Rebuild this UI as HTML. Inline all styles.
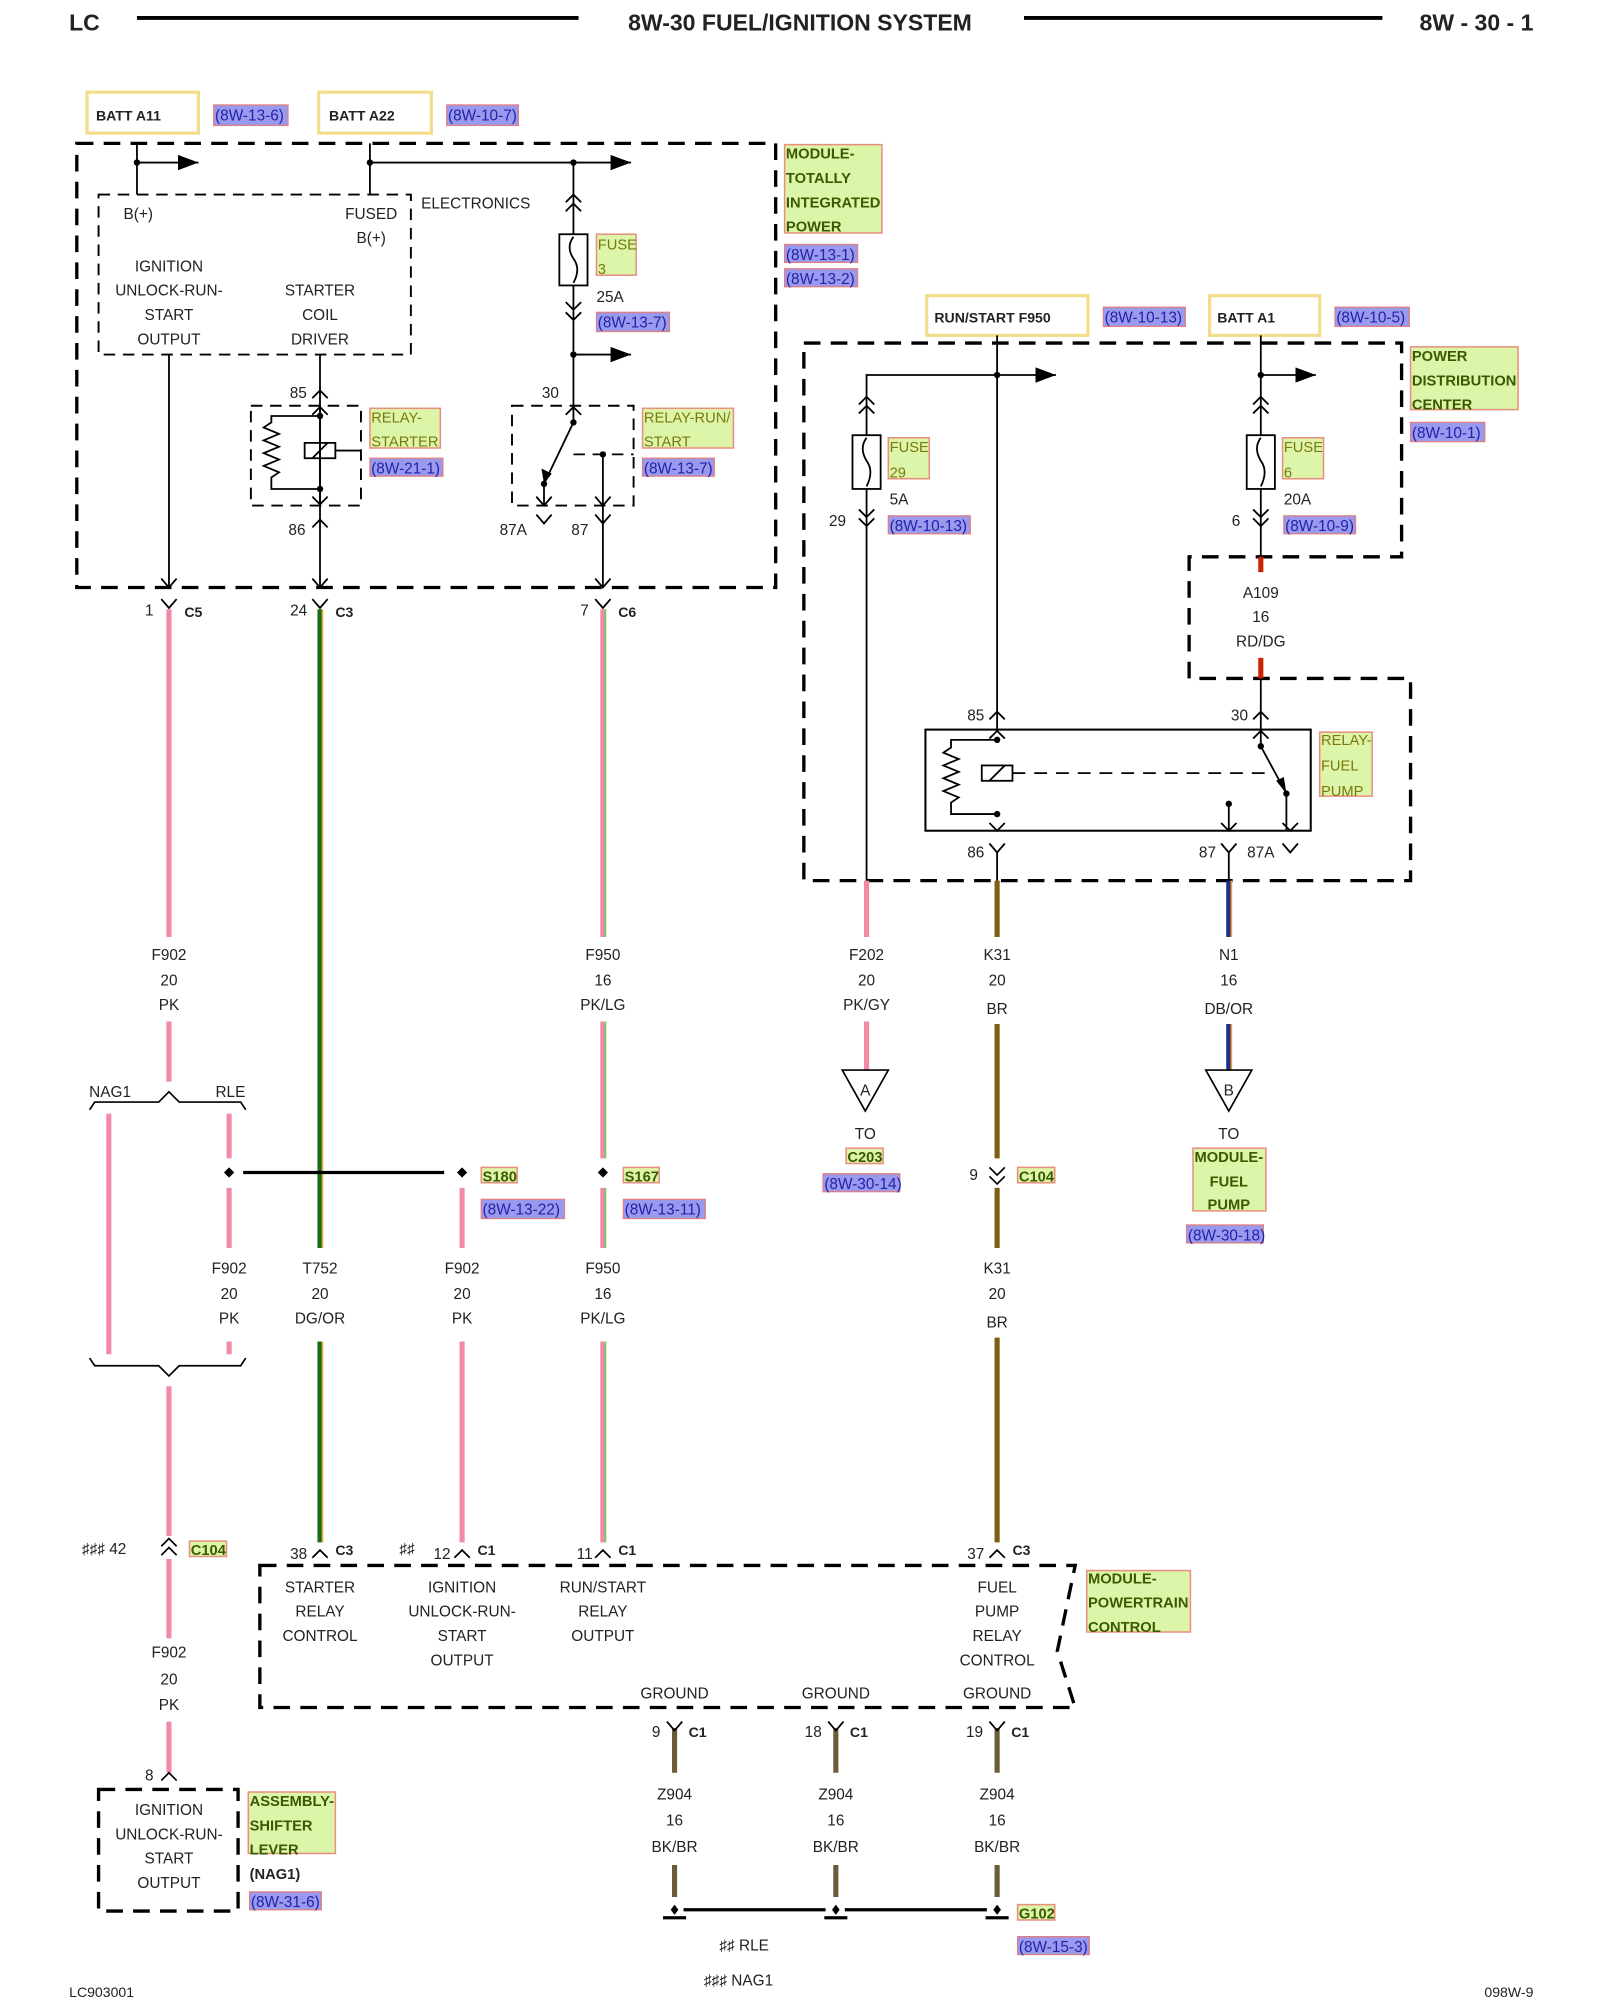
<!DOCTYPE html>
<html><head><meta charset="utf-8"><style>
html,body{margin:0;padding:0;background:#fff}
svg{display:block}
text{font-family:"Liberation Sans",sans-serif;font-size:12px;fill:#222}
.b{font-weight:bold}
.c{text-anchor:middle}
.g{fill:#3a5a00;font-weight:bold;font-size:11.5px}
.gl{fill:#7a7a10;font-size:11.5px}
.r{fill:#2222aa;font-size:12px}
</style></head><body>
<svg width="1600" height="2000" viewBox="0 0 1250 1562.5" xmlns="http://www.w3.org/2000/svg">
<defs>
<marker id="ar" markerWidth="17" markerHeight="13" refX="16" refY="6" orient="auto" markerUnits="userSpaceOnUse"><path d="M0,0 L16,6 L0,12z" fill="#000"/></marker>
</defs>
<rect width="1250" height="1562.5" fill="#fff"/>
<!-- header -->
<text x="54" y="24" class="b" style="font-size:18px">LC</text>
<line x1="107" y1="14" x2="452" y2="14" stroke="#000" stroke-width="3"/>
<text x="625" y="24" class="b c" style="font-size:18px">8W-30 FUEL/IGNITION SYSTEM</text>
<line x1="800" y1="14" x2="1080" y2="14" stroke="#000" stroke-width="3"/>
<text x="1198" y="24" class="b" style="font-size:18px;text-anchor:end">8W - 30 - 1</text>

<!-- top source boxes -->
<g fill="none" stroke="#f3dd8a" stroke-width="2.5">
<rect x="68" y="72" width="87" height="32"/><rect x="249" y="72" width="88" height="32"/>
<rect x="724" y="231" width="126" height="31"/><rect x="945" y="231" width="86" height="31"/>
</g>
<text x="75" y="94" class="b" style="font-size:11px">BATT A11</text>
<text x="257" y="94" class="b" style="font-size:11px">BATT A22</text>
<text x="730" y="252" class="b" style="font-size:11px">RUN/START F950</text>
<text x="951" y="252" class="b" style="font-size:11px">BATT A1</text>

<!-- reference highlight boxes -->
<g fill="#9999ee" stroke="#e08080" stroke-width="1">
<rect x="167" y="82" width="58" height="16"/><rect x="349" y="82" width="56" height="16"/>
<rect x="466" y="244" width="57" height="15"/>
<rect x="613" y="191" width="57" height="14"/><rect x="613" y="210" width="57" height="14"/>
<rect x="289" y="358" width="57" height="14"/><rect x="502" y="358" width="56" height="14"/>
<rect x="862" y="240" width="64" height="15"/><rect x="1043" y="240" width="58" height="15"/>
<rect x="1102" y="330" width="58" height="15"/>
<rect x="694" y="403" width="64" height="14"/><rect x="1003" y="403" width="56" height="14"/>
<rect x="376" y="937" width="65" height="15"/><rect x="487" y="937" width="64" height="15"/>
<rect x="643" y="917" width="60" height="14"/><rect x="927" y="957" width="60" height="14"/>
<rect x="195" y="1478" width="56" height="14"/><rect x="795" y="1513" width="56" height="14"/>
</g>
<g class="r">
<text x="168" y="94" class="r">(8W-13-6)</text><text x="350" y="94" class="r">(8W-10-7)</text>
<text x="467" y="256" class="r">(8W-13-7)</text>
<text x="614" y="203" class="r">(8W-13-1)</text><text x="614" y="222" class="r">(8W-13-2)</text>
<text x="290" y="370" class="r">(8W-21-1)</text><text x="503" y="370" class="r">(8W-13-7)</text>
<text x="863" y="252" class="r">(8W-10-13)</text><text x="1044" y="252" class="r">(8W-10-5)</text>
<text x="1103" y="342" class="r">(8W-10-1)</text>
<text x="695" y="415" class="r">(8W-10-13)</text><text x="1004" y="415" class="r">(8W-10-9)</text>
<text x="377" y="949" class="r">(8W-13-22)</text><text x="488" y="949" class="r">(8W-13-11)</text>
<text x="644" y="929" class="r">(8W-30-14)</text><text x="928" y="969" class="r">(8W-30-18)</text>
<text x="196" y="1490" class="r">(8W-31-6)</text><text x="796" y="1525" class="r">(8W-15-3)</text>
</g>

<!-- green label boxes -->
<g fill="#ddf5a8" stroke="#e89080" stroke-width="1.2">
<rect x="613" y="113" width="76" height="69"/>
<rect x="466" y="183" width="31" height="32"/>
<rect x="289" y="319" width="55" height="31"/><rect x="502" y="319" width="71" height="31"/>
<rect x="1102" y="271" width="84" height="49"/>
<rect x="694" y="342" width="32" height="32"/><rect x="1002" y="342" width="32" height="32"/>
<rect x="1031" y="572" width="41" height="50"/>
<rect x="376" y="912" width="28" height="12"/><rect x="487" y="912" width="28" height="12"/>
<rect x="661" y="897" width="29" height="12"/><rect x="932" y="897" width="57" height="49"/>
<rect x="795" y="912" width="29" height="12"/>
<rect x="148" y="1204" width="29" height="12"/>
<rect x="849" y="1227" width="81" height="48"/>
<rect x="194" y="1400" width="68" height="48"/>
<rect x="795" y="1488" width="29" height="12"/>
</g>
<text x="614" y="124" class="g">MODULE-</text><text x="614" y="143" class="g">TOTALLY</text>
<text x="614" y="162" class="g">INTEGRATED</text><text x="614" y="181" class="g">POWER</text>
<text x="467" y="195" class="gl">FUSE</text><text x="467" y="214" class="gl">3</text>
<text x="290" y="330" class="gl">RELAY-</text><text x="290" y="349" class="gl">STARTER</text>
<text x="503" y="330" class="gl">RELAY-RUN/</text><text x="503" y="349" class="gl">START</text>
<text x="1103" y="282" class="g">POWER</text><text x="1103" y="301" class="g">DISTRIBUTION</text><text x="1103" y="320" class="g">CENTER</text>
<text x="695" y="353" class="gl">FUSE</text><text x="695" y="373" class="gl">29</text>
<text x="1003" y="353" class="gl">FUSE</text><text x="1003" y="373" class="gl">6</text>
<text x="1032" y="582" class="gl">RELAY-</text><text x="1032" y="602" class="gl">FUEL</text><text x="1032" y="622" class="gl">PUMP</text>
<text x="377" y="923" class="g">S180</text><text x="488" y="923" class="g">S167</text>
<text x="662" y="908" class="g">C203</text><text x="796" y="923" class="g">C104</text>
<text x="149" y="1215" class="g">C104</text><text x="796" y="1499" class="g">G102</text>
<text x="960" y="908" class="g c">MODULE-</text><text x="960" y="927" class="g c">FUEL</text><text x="960" y="945" class="g c">PUMP</text>
<text x="850" y="1237" class="g">MODULE-</text><text x="850" y="1256" class="g">POWERTRAIN</text><text x="850" y="1275" class="g">CONTROL</text>
<text x="195" y="1411" class="g">ASSEMBLY-</text><text x="195" y="1430" class="g">SHIFTER</text><text x="195" y="1449" class="g">LEVER</text>
<text x="195" y="1468" class="b" style="font-size:11.5px">(NAG1)</text>

<!-- dashed module outlines -->
<g fill="none" stroke="#000" stroke-width="2.6" stroke-dasharray="13,8">
<rect x="60" y="112" width="546" height="347"/>
<path d="M628,268 H1095 V435 H929 V530 H1102 V688 H628 Z"/>
<path d="M203,1223 H840 L826,1290 L840,1334 H203 Z"/>
<rect x="77" y="1398" width="109" height="95"/>
</g>
<g fill="none" stroke="#000" stroke-width="1.5" stroke-dasharray="9,6">
<rect x="77" y="152" width="244" height="125"/>
<rect x="196" y="317" width="86" height="78"/>
<rect x="400" y="317" width="95" height="78"/>
</g>

<!-- TIPM internal wiring -->
<g stroke="#000" stroke-width="1.4" fill="none">
<path d="M107,112 V152 M107,127 H155" marker-end="url(#ar)"/>
<path d="M289,112 V152 M289,127 H493" marker-end="url(#ar)"/>
<path d="M448,127 V183 M448,223 V317"/>
<path d="M448,277 H493" marker-end="url(#ar)"/>
<rect x="437" y="183" width="22" height="40"/>
<path d="M448,185 q-6,8 0,17 q6,8 0,19"/>
<path d="M442,158 l6,-6 l6,6 M442,165 l6,-6 l6,6 M442,236 l6,6 l6,-6 M442,244 l6,6 l6,-6"/>
<path d="M132,277 V459 M126,452 l6,7 l6,-7"/>
<path d="M250,277 V459 M244,311 l6,-6 l6,6 M244,412 l6,-6 M256,412 l-6,-6 M244,452 l6,7 l6,-7"/>
<path d="M250,317 V395 M244,324 l6,-6 l6,6 M244,388 l6,6 l6,-6"/>
<path d="M250,325 H212 V330 l-6,4 l12,5 l-12,5 l12,5 l-12,5 l12,5 l-12,5 l12,5 l-6,4 V382 H250"/>
<rect x="238" y="346" width="24" height="12"/><path d="M244,358 l12,-12 M262,352 H282"/>
<path d="M448,317 V330 L425,378 V395 M442,324 l6,-6 l6,6"/>
<path d="M448,355 H495" stroke-dasharray="9,6"/>
<path d="M471,355 V459 M465,388 l6,7 l6,-7 M465,452 l6,7 l6,-7"/>
<path d="M419,388 l6,7 l6,-7 M419,402 l6,7 l6,-7 M465,402 l6,7 l6,-7"/>
</g>
<g fill="#000">
<circle cx="107" cy="127" r="2.5"/><circle cx="289" cy="127" r="2.5"/><circle cx="448" cy="127" r="2.5"/>
<circle cx="448" cy="277" r="2.5"/><circle cx="250" cy="325" r="2.5"/><circle cx="250" cy="382" r="2.5"/>
<circle cx="448" cy="330" r="2.5"/><circle cx="425" cy="378" r="2.5"/><circle cx="471" cy="355" r="2.5"/>
<path d="M425,378 l-2,-12 l8,4z"/>
</g>
<text x="108" y="171" class="c">B(+)</text>
<text x="290" y="171" class="c">FUSED</text><text x="290" y="190" class="c">B(+)</text>
<text x="329" y="163">ELECTRONICS</text>
<text x="132" y="212" class="c">IGNITION</text><text x="132" y="231" class="c">UNLOCK-RUN-</text>
<text x="132" y="250" class="c">START</text><text x="132" y="269" class="c">OUTPUT</text>
<text x="250" y="231" class="c">STARTER</text><text x="250" y="250" class="c">COIL</text><text x="250" y="269" class="c">DRIVER</text>
<text x="466" y="236">25A</text>
<text x="233" y="311" class="c">85</text><text x="430" y="311" class="c">30</text>
<text x="232" y="418" class="c">86</text><text x="401" y="418" class="c">87A</text><text x="453" y="418" class="c">87</text>

<!-- connectors below TIPM -->
<g stroke="#000" stroke-width="1.4" fill="none">
<path d="M126,468 l6,7 l6,-7 M244,468 l6,7 l6,-7 M465,468 l6,7 l6,-7"/>
</g>
<text x="120" y="481" style="text-anchor:end">1</text><text x="144" y="482" class="b" style="font-size:11px">C5</text>
<text x="240" y="481" style="text-anchor:end">24</text><text x="262" y="482" class="b" style="font-size:11px">C3</text>
<text x="460" y="481" style="text-anchor:end">7</text><text x="483" y="482" class="b" style="font-size:11px">C6</text>

<!-- colored wires -->
<g stroke-width="4" fill="none">
<path d="M132,476 V732 M132,798 V845" stroke="#f08aa5"/>
<path d="M85,870 V1058 M179,870 V905 M179,928 V975 M179,1048 V1058" stroke="#f08aa5"/>
<path d="M132,1083 V1200 M132,1218 V1280 M132,1345 V1385" stroke="#f08aa5"/>
<path d="M361,928 V975 M361,1048 V1205" stroke="#f08aa5"/>
<path d="M471,476 V732 M471,798 V905 M471,928 V975 M471,1048 V1205" stroke="#f08aa5"/>
<path d="M677,688 V732 M677,798 V836" stroke="#f08aa5"/>
<path d="M779,688 V732 M779,800 V905 M779,928 V975 M779,1045 V1205" stroke="#7d5e12"/>
<path d="M960,688 V732 M960,800 V836" stroke="#1a2f8a"/>
<path d="M527,1350 V1385 M527,1457 V1482 M653,1350 V1385 M653,1457 V1482 M779,1350 V1385 M779,1457 V1482" stroke="#6b5b3a"/>
<path d="M250,476 V975 M250,1048 V1205" stroke="#1a6a1a"/>
</g>
<g stroke-width="1.3" fill="none">
<path d="M473,476 V732 M473,798 V905 M473,928 V975 M473,1048 V1205" stroke="#66d066"/>
<path d="M252,476 V975 M252,1048 V1205" stroke="#f0b040"/>
<path d="M962,688 V732 M962,800 V836" stroke="#f0a030"/>
</g>
<g class="c">
<text x="132" y="750" class="c">F902</text><text x="132" y="770" class="c">20</text><text x="132" y="789" class="c">PK</text>
<text x="471" y="750" class="c">F950</text><text x="471" y="770" class="c">16</text><text x="471" y="789" class="c">PK/LG</text>
<text x="677" y="750" class="c">F202</text><text x="677" y="770" class="c">20</text><text x="677" y="789" class="c">PK/GY</text>
<text x="779" y="750" class="c">K31</text><text x="779" y="770" class="c">20</text><text x="779" y="792" class="c">BR</text>
<text x="960" y="750" class="c">N1</text><text x="960" y="770" class="c">16</text><text x="960" y="792" class="c">DB/OR</text>
<text x="179" y="995" class="c">F902</text><text x="179" y="1015" class="c">20</text><text x="179" y="1034" class="c">PK</text>
<text x="250" y="995" class="c">T752</text><text x="250" y="1015" class="c">20</text><text x="250" y="1034" class="c">DG/OR</text>
<text x="361" y="995" class="c">F902</text><text x="361" y="1015" class="c">20</text><text x="361" y="1034" class="c">PK</text>
<text x="471" y="995" class="c">F950</text><text x="471" y="1015" class="c">16</text><text x="471" y="1034" class="c">PK/LG</text>
<text x="779" y="995" class="c">K31</text><text x="779" y="1015" class="c">20</text><text x="779" y="1037" class="c">BR</text>
<text x="132" y="1295" class="c">F902</text><text x="132" y="1316" class="c">20</text><text x="132" y="1336" class="c">PK</text>
<text x="527" y="1406" class="c">Z904</text><text x="527" y="1426" class="c">16</text><text x="527" y="1447" class="c">BK/BR</text>
<text x="653" y="1406" class="c">Z904</text><text x="653" y="1426" class="c">16</text><text x="653" y="1447" class="c">BK/BR</text>
<text x="779" y="1406" class="c">Z904</text><text x="779" y="1426" class="c">16</text><text x="779" y="1447" class="c">BK/BR</text>
</g>

<!-- braces and splices -->
<g stroke="#000" stroke-width="1.3" fill="none">
<path d="M70,867 l4,-6 H124 l8,-8 l8,8 H188 l4,6"/>
<path d="M70,1061 l4,6 H124 l8,8 l8,-8 H188 l4,-6"/>
<path d="M126,1208 l6,-6 l6,6 M126,1215 l6,-6 l6,6 M126,1391 l6,-6 l6,6"/>
<path d="M773,912 l6,6 l6,-6 M773,919 l6,6 l6,-6"/>
<path d="M658,836 H694 L676,868 Z M942,836 H978 L960,868 Z"/>
</g>
<line x1="190" y1="916" x2="347" y2="916" stroke="#000" stroke-width="2.5"/>
<g fill="#000"><path d="M179,912 l4,4 l-4,4 l-4,-4z M361,912 l4,4 l-4,4 l-4,-4z M471,912 l4,4 l-4,4 l-4,-4z"/></g>
<text x="86" y="857" class="c">NAG1</text><text x="180" y="857" class="c">RLE</text>
<text x="676" y="856" class="c">A</text><text x="960" y="856" class="c">B</text>
<text x="676" y="890" class="c">TO</text><text x="960" y="890" class="c">TO</text>
<text x="764" y="922" style="text-anchor:end">9</text>
<text x="64" y="1214">♯♯♯ 42</text>

<!-- PCM connectors -->
<g stroke="#000" stroke-width="1.4" fill="none">
<path d="M244,1217 l6,-6 l6,6 M355,1217 l6,-6 l6,6 M465,1217 l6,-6 l6,6 M773,1217 l6,-6 l6,6"/>
<path d="M521,1345 l6,7 l6,-7 M647,1345 l6,7 l6,-7 M773,1345 l6,7 l6,-7"/>
</g>
<text x="240" y="1218" style="text-anchor:end">38</text><text x="262" y="1215" class="b" style="font-size:11px">C3</text>
<text x="312" y="1214">♯♯</text><text x="352" y="1218" style="text-anchor:end">12</text><text x="373" y="1215" class="b" style="font-size:11px">C1</text>
<text x="463" y="1218" style="text-anchor:end">11</text><text x="483" y="1215" class="b" style="font-size:11px">C1</text>
<text x="769" y="1218" style="text-anchor:end">37</text><text x="791" y="1215" class="b" style="font-size:11px">C3</text>
<text x="250" y="1244" class="c">STARTER</text><text x="250" y="1263" class="c">RELAY</text><text x="250" y="1282" class="c">CONTROL</text>
<text x="361" y="1244" class="c">IGNITION</text><text x="361" y="1263" class="c">UNLOCK-RUN-</text><text x="361" y="1282" class="c">START</text><text x="361" y="1301" class="c">OUTPUT</text>
<text x="471" y="1244" class="c">RUN/START</text><text x="471" y="1263" class="c">RELAY</text><text x="471" y="1282" class="c">OUTPUT</text>
<text x="779" y="1244" class="c">FUEL</text><text x="779" y="1263" class="c">PUMP</text><text x="779" y="1282" class="c">RELAY</text><text x="779" y="1301" class="c">CONTROL</text>
<text x="527" y="1327" class="c">GROUND</text><text x="653" y="1327" class="c">GROUND</text><text x="779" y="1327" class="c">GROUND</text>
<text x="516" y="1357" style="text-anchor:end">9</text><text x="538" y="1357" class="b" style="font-size:11px">C1</text>
<text x="642" y="1357" style="text-anchor:end">18</text><text x="664" y="1357" class="b" style="font-size:11px">C1</text>
<text x="768" y="1357" style="text-anchor:end">19</text><text x="790" y="1357" class="b" style="font-size:11px">C1</text>
<!-- ground bus -->
<line x1="534" y1="1492" x2="645" y2="1492" stroke="#000" stroke-width="2.5"/>
<line x1="660" y1="1492" x2="771" y2="1492" stroke="#000" stroke-width="2.5"/>
<g fill="#000"><path d="M527,1488 l3,4 l-3,4 l-3,-4z M653,1488 l3,4 l-3,4 l-3,-4z M779,1488 l3,4 l-3,4 l-3,-4z"/>
<rect x="518" y="1497" width="18" height="2.5"/><rect x="644" y="1497" width="18" height="2.5"/><rect x="770" y="1497" width="18" height="2.5"/></g>
<text x="562" y="1524">♯♯ RLE</text><text x="550" y="1551">♯♯♯ NAG1</text>
<text x="120" y="1391" style="text-anchor:end">8</text>
<text x="132" y="1418" class="c">IGNITION</text><text x="132" y="1437" class="c">UNLOCK-RUN-</text>
<text x="132" y="1456" class="c">START</text><text x="132" y="1475" class="c">OUTPUT</text>

<!-- PDC internals -->
<g stroke="#000" stroke-width="1.4" fill="none">
<path d="M779,262 V570 M779,293 H825" marker-end="url(#ar)"/>
<path d="M779,293 H677 V340 M677,382 V688"/>
<rect x="666" y="340" width="22" height="42"/><path d="M677,342 q-6,8 0,18 q6,8 0,20"/>
<path d="M671,316 l6,-6 l6,6 M671,323 l6,-6 l6,6 M671,398 l6,6 l6,-6 M671,405 l6,6 l6,-6"/>
<path d="M985,262 V340 M985,293 H1028" marker-end="url(#ar)"/>
<path d="M985,382 V447 M985,514 V570"/>
<rect x="974" y="340" width="22" height="42"/><path d="M985,342 q-6,8 0,18 q6,8 0,20"/>
<path d="M979,316 l6,-6 l6,6 M979,323 l6,-6 l6,6 M979,398 l6,6 l6,-6 M979,405 l6,6 l6,-6"/>
<path d="M773,562 l6,-6 l6,6 M979,562 l6,-6 l6,6"/>
<rect x="723" y="570" width="301" height="79" stroke-width="1.6"/>
<path d="M773,577 l6,-6 l6,6 M979,577 l6,-6 l6,6 M773,643 l6,6 l6,-6 M954,643 l6,6 l6,-6 M1002,643 l6,6 l6,-6"/>
<path d="M779,578 H743 V584 l-6,4 l12,5 l-12,5 l12,5 l-12,5 l12,5 l-12,5 l12,5 l-6,4 V636 H779"/>
<rect x="767" y="598" width="24" height="12"/><path d="M773,610 l12,-12"/>
<path d="M791,604 H990" stroke-dasharray="10,7"/>
<path d="M985,570 V583 L1005,620 V649 M960,628 V649"/>
<path d="M773,659 l6,7 l6,-7 M779,666 V688 M954,659 l6,7 l6,-7 M960,666 V688 M1002,659 l6,7 l6,-7"/>
</g>
<g fill="#000"><circle cx="779" cy="293" r="2.5"/><circle cx="985" cy="293" r="2.5"/>
<circle cx="779" cy="578" r="2.5"/><circle cx="779" cy="636" r="2.5"/><circle cx="985" cy="583" r="2.5"/>
<circle cx="1005" cy="620" r="2.5"/><circle cx="960" cy="628" r="2.5"/><path d="M1005,620 l-8,-10 l6,-3z"/></g>
<g stroke="#cc2200" stroke-width="4"><line x1="985" y1="435" x2="985" y2="447"/><line x1="985" y1="514" x2="985" y2="530"/></g>
<text x="695" y="394">5A</text><text x="1003" y="394">20A</text>
<text x="661" y="411" style="text-anchor:end">29</text><text x="969" y="411" style="text-anchor:end">6</text>
<text x="985" y="467" class="c">A109</text><text x="985" y="486" class="c">16</text><text x="985" y="505" class="c">RD/DG</text>
<text x="769" y="563" style="text-anchor:end">85</text><text x="975" y="563" style="text-anchor:end">30</text>
<text x="769" y="670" style="text-anchor:end">86</text><text x="950" y="670" style="text-anchor:end">87</text><text x="985" y="670" class="c">87A</text>

<!-- footer -->
<text x="54" y="1560" style="font-size:11px">LC903001</text>
<text x="1198" y="1560" style="font-size:11px;text-anchor:end">098W-9</text>
</svg>
</body></html>
